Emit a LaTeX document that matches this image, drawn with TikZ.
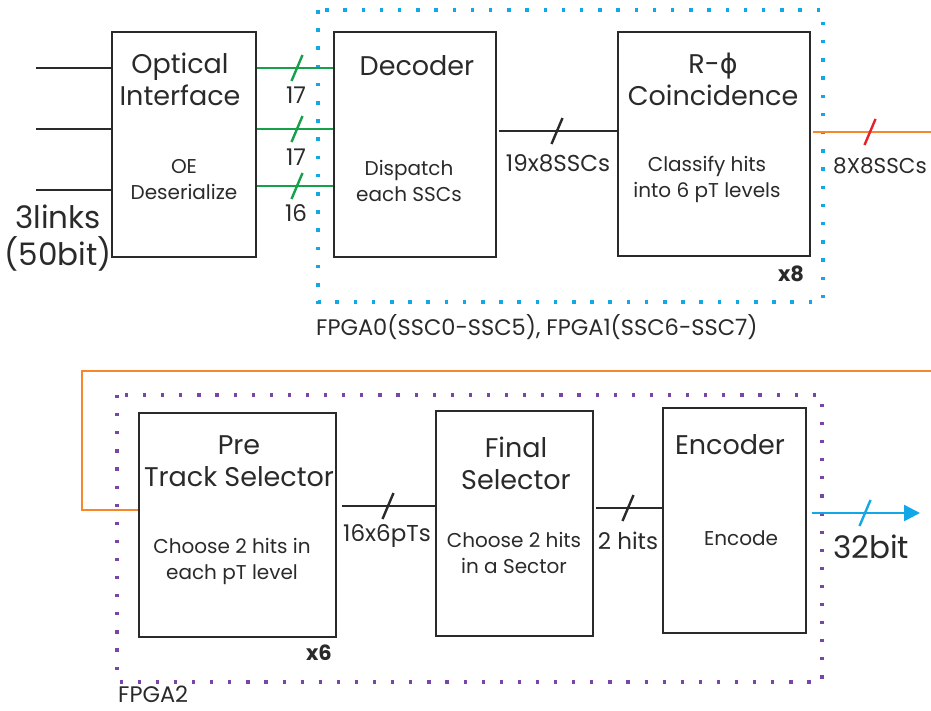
\documentclass[tikz,border=0pt]{standalone}
\usepackage{fontspec}
\setmainfont{Poppins}
\newfontfamily\grk{DejaVu Sans}
\usetikzlibrary{arrows.meta}
\definecolor{ink}{HTML}{2A2A2A}
\definecolor{grn}{HTML}{16A04A}
\definecolor{cyn}{HTML}{12A8E8}
\definecolor{org}{HTML}{F7872A}
\definecolor{redc}{HTML}{E8202A}
\definecolor{pur}{HTML}{7B45A5}
\newcommand{\busmark}[2]{\draw[wire,#1] ([shift={(-5.5,13)}]#2) -- ([shift={(5.5,-13)}]#2);}
\begin{document}
\begin{tikzpicture}[x=1pt,y=-1pt,
  box/.style={draw=ink, line width=2pt, inner sep=0pt},
  ttl/.style={text=ink, font=\fontsize{27}{32}\selectfont, align=center, inner sep=0pt},
  sub/.style={text=ink, font=\fontsize{20}{26}\selectfont, align=center, inner sep=0pt},
  lbl/.style={text=ink, font=\fontsize{23}{28}\selectfont, inner sep=0pt},
  big/.style={text=ink, font=\fontsize{31}{37}\selectfont, align=center, inner sep=0pt},
  mult/.style={text=ink, font=\fontsize{21}{24}\selectfont\bfseries, inner sep=0pt},
  captxt/.style={text=ink, font=\fontsize{22.5}{26}\selectfont, inner sep=0pt},
  wire/.style={line width=2.4pt},
  dotsc/.style={line width=3.5pt, dash pattern=on 3.5pt off 14.7pt},
  dotsp/.style={line width=3.2pt, dash pattern=on 3.2pt off 14.9pt}]
\useasboundingbox (0,0) rectangle (931,710);

% FPGA frames
\draw[dotsc, cyn] (318,10) rectangle (823,302);
\draw[dotsp, pur] (117,395) rectangle (822,682);

% boxes
\node[box, minimum width=144pt, minimum height=225pt] (oi) at (184,144.5) {};
\node[box, minimum width=162pt, minimum height=225pt] (dec) at (415,144.5) {};
\node[box, minimum width=192pt, minimum height=224pt] (rphi) at (714,144) {};
\node[box, minimum width=197pt, minimum height=224pt] (pre) at (237.5,525) {};
\node[box, minimum width=157pt, minimum height=225pt] (fin) at (514.5,523.5) {};
\node[box, minimum width=143pt, minimum height=225pt] (enc) at (734.5,520.5) {};

% box texts
\node[ttl] (t1) at (180,79) {Optical\\Interface};
\node[sub] (s1) at (184,180) {OE\\Deserialize};
\node[ttl] (t2) at (417,66) {Decoder};
\node[sub] (s2) at (409,181) {Dispatch\\each SSCs};
\node[ttl] (t3) at (713,79) {R-{\grk ϕ}\\Coincidence};
\node[sub] (s3) at (707,179) {Classify hits\\into 6 pT levels};
\node[ttl] (t4) at (239,461) {Pre\\Track Selector};
\node[sub] (s4) at (232,561) {Choose 2 hits in\\each pT level};
\node[ttl] (t5) at (516,463) {Final\\Selector};
\node[sub] (s5) at (514,553) {Choose 2 hits\\in a Sector};
\node[ttl] (t6) at (730,445) {Encoder};
\node[sub] (s6) at (741,538) {Encode};

% multiplicity marks and captions
\node[mult] (m8) at (791,274) {x8};
\node[mult] (m6) at (319,653) {x6};
\node[captxt, anchor=west] (f01) at (316,327) {FPGA0(SSC0-SSC5), FPGA1(SSC6-SSC7)};
\node[captxt, anchor=west] (f2) at (118,694) {FPGA2};

% inputs
\coordinate (i1) at (36,68);
\coordinate (i2) at (36,129);
\coordinate (i3) at (36,190);
\draw[wire, ink] (i1) -- (i1 -| oi.west);
\draw[wire, ink] (i2) -- (i2 -| oi.west);
\draw[wire, ink] (i3) -- (i3 -| oi.west);
\node[big] (lnk) at (58,238) {3links\\(50bit)};

% green buses
\coordinate (g3) at (36,186);
\draw[wire, grn] (i1 -| oi.east) -- (i1 -| dec.west);
\draw[wire, grn] (i2 -| oi.east) -- (i2 -| dec.west);
\draw[wire, grn] (g3 -| oi.east) -- (g3 -| dec.west);
\coordinate (b1) at (297,68);
\coordinate (b2) at (297,129);
\coordinate (b3) at (297,186);
\busmark{grn}{b1}
\busmark{grn}{b2}
\busmark{grn}{b3}
\node[lbl] (n1) at (296,95) {17};
\node[lbl] (n2) at (296,157) {17};
\node[lbl] (n3) at (296,213) {16};

% decoder -> coincidence
\coordinate (y1) at (0,131);
\draw[wire, ink] ([xshift=2pt]y1 -| dec.east) -- (y1 -| rphi.west);
\coordinate (b4) at (557,131);
\busmark{ink}{b4}
\node[lbl] (n4) at (558,163) {19x8SSCs};

% coincidence output (orange)
\coordinate (y2) at (0,132);
\coordinate (oR) at (931,132);
\draw[wire, org] ([xshift=2pt]y2 -| rphi.east) -- (oR);
\coordinate (b5) at (870,132);
\busmark{redc}{b5}
\node[lbl, anchor=west, font=\fontsize{21.5}{26}\selectfont] (n5) at (833,166) {8X8SSCs};

% loop into pre track selector
\coordinate (oL1) at (931,371);
\coordinate (oL2) at (82,371);
\coordinate (oL3) at (82,510);
\draw[wire, org] (oL1) -- (oL2) -- (oL3) -- (oL3 -| pre.west);

% pre -> final
\coordinate (y3) at (0,506);
\draw[wire, ink] ([xshift=5pt]y3 -| pre.east) -- (y3 -| fin.west);
\coordinate (b6) at (388,506);
\busmark{ink}{b6}
\node[lbl] (n6) at (387,536) {16x6pTs};

% final -> encoder
\coordinate (y4) at (0,508);
\draw[wire, ink] ([xshift=2pt]y4 -| fin.east) -- (y4 -| enc.west);
\coordinate (b7) at (628,508);
\busmark{ink}{b7}
\node[lbl] (n7) at (628,541) {2 hits};

% output
\coordinate (y5) at (0,513);
\coordinate (out) at (920,513);
\draw[wire, cyn, -{Triangle[length=16pt,width=16pt]}] ([xshift=5pt]y5 -| enc.east) -- (out);
\coordinate (b8) at (865,513);
\busmark{cyn}{b8}
\node[big] (n8) at (871,547) {32bit};
\end{tikzpicture}
\end{document}
